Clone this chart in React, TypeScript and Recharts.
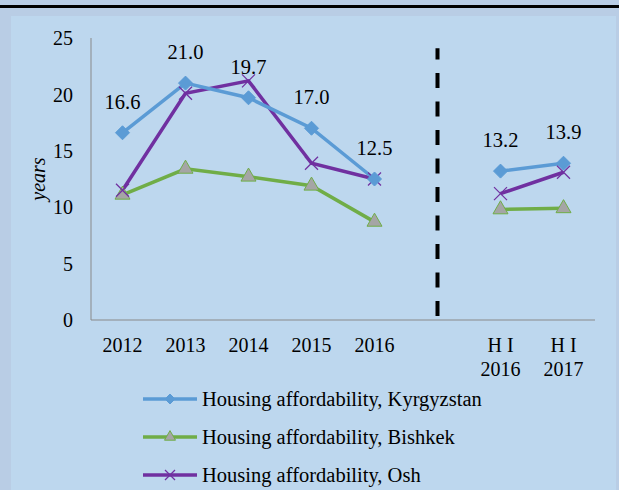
import React from 'react';
import { LineChart, Line, XAxis, YAxis, ReferenceLine, LabelList, Legend } from 'recharts';

const categories = ['2012', '2013', '2014', '2015', '2016', ' ', 'H I\n2016', 'H I\n2017'];
const kyrgyzstan = [16.6, 21.0, 19.7, 17.0, 12.5, null, 13.2, 13.9];
const bishkek = [11.1, 13.4, 12.7, 11.9, 8.7, null, 9.8, 9.9];
const osh = [11.5, 20.1, 21.2, 13.9, 12.5, null, 11.2, 13.1];
const yTicks = [0, 5, 10, 15, 20, 25];
const seriesNames = [
  'Housing affordability, Kyrgyzstan',
  'Housing affordability, Bishkek',
  'Housing affordability, Osh',
];

const data = categories.map((c, i) => ({
  cat: c,
  kg: kyrgyzstan[i],
  bk: bishkek[i],
  osh: osh[i],
}));

const FONT = "'Liberation Serif', 'Times New Roman', serif";
const BLUE = '#5b9bd5';
const GREEN = '#70ad47';
const PURPLE = '#7030a0';

const Diamond = (props: any) => {
  const { cx, cy, half = 7 } = props;
  if (cx == null || cy == null || props.value == null) return null;
  return <polygon points={`${cx},${cy - half} ${cx + half},${cy} ${cx},${cy + half} ${cx - half},${cy}`} fill={BLUE} stroke={BLUE} />;
};
const Triangle = (props: any) => {
  const { cx, cy, side = 15 } = props;
  if (cx == null || cy == null || props.value == null) return null;
  const h = side * 0.87;
  return (
    <polygon
      points={`${cx},${cy - (2 * h) / 3} ${cx + side / 2},${cy + h / 3} ${cx - side / 2},${cy + h / 3}`}
      fill="#a5a5a5"
      stroke={GREEN}
      strokeWidth={1}
    />
  );
};
const Cross = (props: any) => {
  const { cx, cy, half = 6.5 } = props;
  if (cx == null || cy == null || props.value == null) return null;
  return (
    <g stroke={PURPLE} strokeWidth={1.3}>
      <line x1={cx - half} y1={cy - half} x2={cx + half} y2={cy + half} />
      <line x1={cx - half} y1={cy + half} x2={cx + half} y2={cy - half} />
    </g>
  );
};

const XTick = (props: any) => {
  const { x, y, payload } = props;
  const lines = String(payload.value).split('\n');
  return (
    <text x={x} y={y} textAnchor="middle" fontFamily={FONT} fontSize={20} fill="#000">
      {lines.map((l, i) => (
        <tspan key={i} x={x} dy={i === 0 ? '0.71em' : 24}>
          {l}
        </tspan>
      ))}
    </text>
  );
};

const LegendContent = () => {
  const markers = [
    (cx: number, cy: number) => <Diamond cx={cx} cy={cy} half={5} value={1} />,
    (cx: number, cy: number) => <Triangle cx={cx} cy={cy} side={11} value={1} />,
    (cx: number, cy: number) => <Cross cx={cx} cy={cy} half={5} value={1} />,
  ];
  const colors = [BLUE, GREEN, PURPLE];
  return (
    <div style={{ fontFamily: FONT, fontSize: 20.5, color: '#000' }}>
      {seriesNames.map((n, i) => (
        <div key={n} style={{ display: 'flex', alignItems: 'center', height: 38 }}>
          <svg width={56} height={20} style={{ marginRight: 4 }}>
            <line x1={1} y1={10} x2={55} y2={10} stroke={colors[i]} strokeWidth={3.5} />
            {markers[i](28, 10)}
          </svg>
          <span>{n}</span>
        </div>
      ))}
    </div>
  );
};

export default function App() {
  return (
    <div style={{ position: 'fixed', left: 0, top: 0, width: 619, height: 490, background: '#b9cde5', overflow: 'hidden' }}>
      <div style={{ position: 'absolute', left: 0, top: 5, width: 619, height: 3, background: '#000' }} />
      <div style={{ position: 'absolute', left: 11, top: 16, width: 605, height: 474, background: '#bdd7ee' }} />
      <div style={{ position: 'absolute', left: 0, top: 0 }}>
        <LineChart width={619} height={490} data={data} margin={{ top: 38, right: 24, left: 31, bottom: 15 }}>
          <XAxis
            dataKey="cat"
            interval={0}
            height={50}
            padding={{ left: 31.5, right: 31.5 }}
            tickLine={false}
            tickSize={0}
            tickMargin={18}
            axisLine={{ stroke: '#898989', strokeWidth: 1 }}
            tick={<XTick />}
          />
          <YAxis
            domain={[0, 25]}
            ticks={yTicks}
            width={60}
            tickLine={false}
            tickSize={0}
            tickMargin={18}
            axisLine={{ stroke: '#898989', strokeWidth: 1 }}
            tick={{ fontFamily: FONT, fontSize: 20, fill: '#000' }}
            label={{
              value: 'years',
              angle: -90,
              position: 'insideLeft',
              offset: 7,
              style: { textAnchor: 'middle', fontFamily: FONT, fontSize: 20, fontStyle: 'italic', fill: '#000' },
            }}
          />
          <ReferenceLine
            segment={[
              { x: ' ', y: 0.35 },
              { x: ' ', y: 24.1 },
            ]}
            stroke="#000"
            strokeWidth={4}
            strokeDasharray="15 13.5"
          />
          <Line dataKey="bk" name={seriesNames[1]} stroke={GREEN} strokeWidth={3.5} dot={<Triangle />} isAnimationActive={false} />
          <Line dataKey="osh" name={seriesNames[2]} stroke={PURPLE} strokeWidth={3.5} dot={<Cross />} isAnimationActive={false} />
          <Line dataKey="kg" name={seriesNames[0]} stroke={BLUE} strokeWidth={3.5} dot={<Diamond />} isAnimationActive={false}>
            <LabelList
              dataKey="kg"
              position="top"
              offset={24}
              formatter={(v: any) => (v == null ? '' : Number(v).toFixed(1))}
              style={{ fontFamily: FONT, fontSize: 20.5, fill: '#000' }}
            />
          </Line>
          <Legend
            content={<LegendContent />}
            wrapperStyle={{ position: 'absolute', left: 142, top: 380, width: 400, height: 105 }}
          />
        </LineChart>
      </div>
    </div>
  );
}
